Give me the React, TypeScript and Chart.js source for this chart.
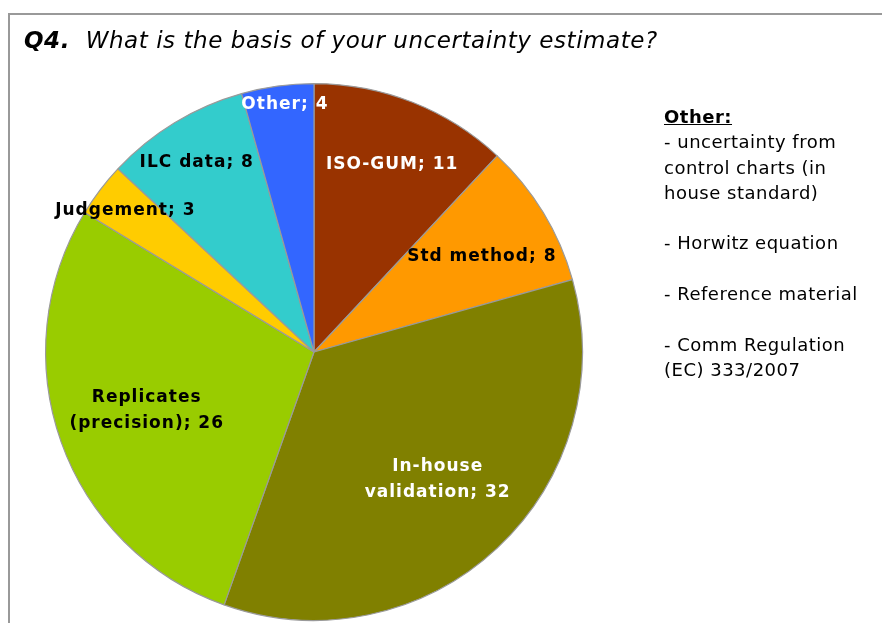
import React, { useEffect, useRef } from "react";
import { Chart, registerables } from "chart.js";

Chart.register(...registerables);

const categories = [
  "ISO-GUM",
  "Std method",
  "In-house validation",
  "Replicates (precision)",
  "Judgement",
  "ILC data",
  "Other",
];
const values = [11, 8, 32, 26, 3, 8, 4];
const labelLines = [
  ["ISO-GUM; 11"],
  ["Std method; 8"],
  ["In-house", "validation; 32"],
  ["Replicates", "(precision); 26"],
  ["Judgement; 3"],
  ["ILC data; 8"],
  ["Other; 4"],
];
const colors = ["#993300", "#FF9900", "#808000", "#99CC00", "#FFCC00", "#33CCCC", "#3366FF"];
const labelColors = ["#ffffff", "#000000", "#ffffff", "#000000", "#000000", "#000000", "#ffffff"];
const labelRadius = [0.755, 0.717, 0.66, 0.662, 0.88, 0.83, 0.928];
const labelAngleShift = [1, 1.7, -1, 0.35, -0.4, -0.6, 1];

const otherNotes = [
  "- uncertainty from",
  "control charts (in",
  "house standard)",
  "",
  "- Horwitz equation",
  "",
  "- Reference material",
  "",
  "- Comm Regulation",
  "(EC) 333/2007",
];

const labelPlugin = {
  id: "sliceLabels",
  afterDatasetsDraw(chart: any) {
    const ctx = chart.ctx;
    const meta = chart.getDatasetMeta(0);
    ctx.save();
    ctx.font = "bold 17px 'DejaVu Sans', Verdana, sans-serif";
    try {
      (ctx as any).letterSpacing = "1px";
    } catch (e) {}
    ctx.textAlign = "center";
    ctx.textBaseline = "middle";
    meta.data.forEach((arc: any, i: number) => {
      const p = arc.getProps(["x", "y", "startAngle", "endAngle", "outerRadius"], true);
      const mid = (p.startAngle + p.endAngle) / 2 + (labelAngleShift[i] * Math.PI) / 180;
      const r = p.outerRadius * labelRadius[i];
      const cx = p.x + Math.cos(mid) * r;
      const cy = p.y + Math.sin(mid) * r;
      const lines = labelLines[i];
      const lh = 26;
      ctx.fillStyle = labelColors[i];
      lines.forEach((t, j) => {
        ctx.fillText(t, cx + 0.5, cy + (j - (lines.length - 1) / 2) * lh);
      });
    });
    ctx.restore();
  },
};

export default function App() {
  const ref = useRef<HTMLCanvasElement>(null);
  useEffect(() => {
    if (!ref.current) return;
    const chart = new Chart(ref.current, {
      type: "pie",
      data: {
        labels: categories,
        datasets: [
          {
            data: values,
            backgroundColor: colors,
            borderColor: "#9a9a9a",
            borderWidth: 1.2,
          },
        ],
      },
      options: {
        animation: false,
        responsive: false,
        maintainAspectRatio: false,
        layout: { padding: { left: 45, top: 83, right: 299, bottom: 2 } },
        plugins: {
          legend: { display: false },
          tooltip: { enabled: false },
          title: { display: false },
        },
      },
      plugins: [labelPlugin],
    } as any);
    return () => chart.destroy();
  }, []);

  return (
    <div
      style={{
        position: "fixed",
        left: 0,
        top: 0,
        width: 882,
        height: 623,
        overflow: "hidden",
        background: "#fff",
        fontFamily: "'DejaVu Sans', Verdana, sans-serif",
      }}
    >
      <div
        style={{
          position: "absolute",
          left: 8,
          top: 13,
          width: 900,
          height: 700,
          border: "2px solid #999",
          boxSizing: "border-box",
        }}
      />
      <canvas ref={ref} width={882} height={623} style={{ position: "absolute", left: 0, top: 0 }} />
      <div
        style={{
          position: "absolute",
          left: 24,
          top: 25,
          fontSize: 23,
          fontStyle: "italic",
          whiteSpace: "nowrap",
          lineHeight: "30px",
          letterSpacing: "0.55px",
        }}
      >
        <b>Q4.</b>&nbsp; What is the basis of your uncertainty estimate?
      </div>
      <div
        style={{
          position: "absolute",
          left: 664,
          top: 104,
          fontSize: 18,
          lineHeight: "25.3px",
          letterSpacing: "0.5px",
          whiteSpace: "pre",
        }}
      >
        <div style={{ fontWeight: "bold", textDecoration: "underline" }}>Other:</div>
        {otherNotes.map((t, i) => (
          <div key={i}>{t === "" ? "\u00a0" : t}</div>
        ))}
      </div>
    </div>
  );
}
